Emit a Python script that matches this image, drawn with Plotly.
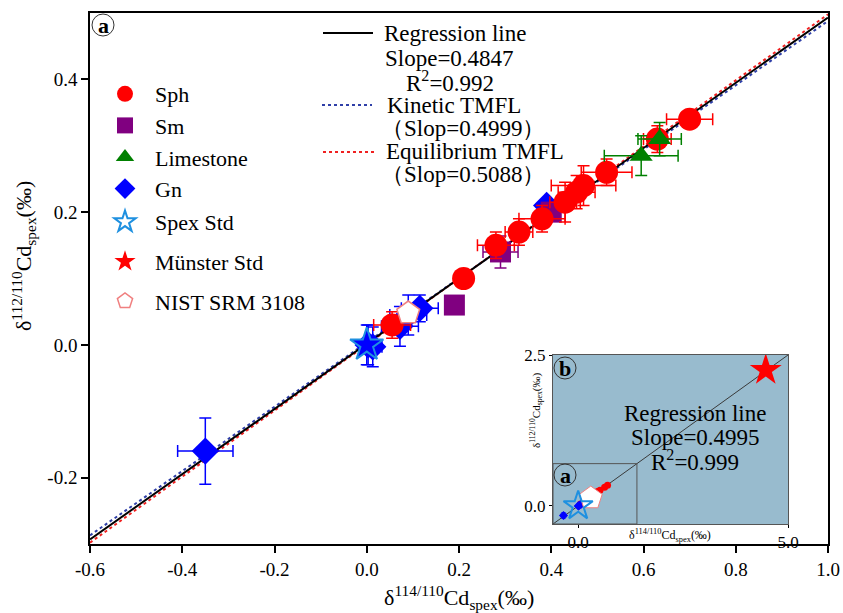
import plotly.graph_objects as go

# ---------------- data ----------------
sph_x = [0.70, 0.63, 0.52, 0.47, 0.455, 0.43, 0.38, 0.33, 0.28, 0.21, 0.055]
sph_y = [0.34, 0.31, 0.26, 0.24, 0.23, 0.215, 0.19, 0.17, 0.15, 0.10, 0.03]
sph_xerr = [0.05, 0.03, 0.055, 0.07, 0.04, 0.033, 0.05, 0.03, 0.04, 0.0, 0.04]
sph_yerr = [0.012, 0.02, 0.02, 0.03, 0.025, 0.03, 0.02, 0.02, 0.02, 0.0, 0.02]

sm_x = [0.40, 0.29, 0.19]
sm_y = [0.20, 0.14, 0.06]
sm_xerr = [0.0, 0.038, 0.0]
sm_yerr = [0.0, 0.024, 0.0]

lime_x = [0.635, 0.595]
lime_y = [0.31, 0.285]
lime_xerr = [0.047, 0.08]
lime_yerr = [0.025, 0.03]

gn_x = [-0.35, 0.39, 0.115, 0.09, 0.072, 0.013, 0.003]
gn_y = [-0.16, 0.21, 0.055, 0.045, 0.028, -0.003, 0.0]
gn_xerr = [0.06, 0.0, 0.04, 0.04, 0.04, 0.02, 0.02]
gn_yerr = [0.05, 0.0, 0.02, 0.03, 0.03, 0.03, 0.03]

spex_x = [0.0]
spex_y = [0.0]

nist_x = [0.09]
nist_y = [0.048]

# inset (b)
munster_x = [4.47]
munster_y = [2.25]
nist_inset_x = [0.30]
nist_inset_y = [0.13]

# regression / TMFL lines (end points)
line_x = [-0.6, 1.0]
reg_y = [-0.293, 0.493]
kin_y = [-0.287, 0.488]
equ_y = [-0.298, 0.498]
inset_line_x = [-0.6, 5.0]
inset_line_y = [-0.3, 2.5]

# axis ticks
x_ticks = [-0.6, -0.4, -0.2, 0.0, 0.2, 0.4, 0.6, 0.8, 1.0]
x_ticklabels = ["-0.6", "-0.4", "-0.2", "0.0", "0.2", "0.4", "0.6", "0.8", "1.0"]
y_ticks = [-0.2, 0.0, 0.2, 0.4]
y_ticklabels = ["-0.2", "0.0", "0.2", "0.4"]
inset_x_ticks = [0.0, 5.0]
inset_x_ticklabels = ["0.0", "5.0"]
inset_y_ticks = [0.0, 2.5]
inset_y_ticklabels = ["0.0", "2.5"]

FONT = "Liberation Serif"
RED = "#FF0000"
PURPLE = "#800080"
GREEN = "#008000"
BLUE = "#0000FF"
SKY = "#1E90E0"
PINK = "#F08080"
NAVY = "#2F3FA8"
INSET_BG = "#98BBCE"

fig = go.Figure()

# lines in main plot
fig.add_trace(go.Scatter(x=line_x, y=kin_y, mode="lines", showlegend=False,
                         line=dict(color=NAVY, width=2, dash="dot"), hoverinfo="skip"))
fig.add_trace(go.Scatter(x=line_x, y=equ_y, mode="lines", showlegend=False,
                         line=dict(color="#F02020", width=2, dash="dot"), hoverinfo="skip"))
fig.add_trace(go.Scatter(x=line_x, y=reg_y, mode="lines", showlegend=False,
                         line=dict(color="black", width=2), hoverinfo="skip"))


def err(arr, color):
    return dict(type="data", array=arr, color=color, thickness=1.5, width=6, visible=True)


fig.add_trace(go.Scatter(x=gn_x, y=gn_y, mode="markers", name="Gn", legendgroup="Gn", legendrank=4,
                         marker=dict(symbol="diamond", size=21, color=BLUE),
                         error_x=err(gn_xerr, BLUE), error_y=err(gn_yerr, BLUE)))
fig.add_trace(go.Scatter(x=sm_x, y=sm_y, mode="markers", name="Sm", legendgroup="Sm", legendrank=2,
                         marker=dict(symbol="square", size=21, color=PURPLE),
                         error_x=err(sm_xerr, PURPLE), error_y=err(sm_yerr, PURPLE)))
fig.add_trace(go.Scatter(x=sph_x, y=sph_y, mode="markers", name="Sph", legendgroup="Sph", legendrank=1,
                         marker=dict(symbol="circle", size=23, color=RED),
                         error_x=err(sph_xerr, RED), error_y=err(sph_yerr, RED)))
fig.add_trace(go.Scatter(x=lime_x, y=lime_y, mode="markers", name="Limestone", legendgroup="Limestone",
                         legendrank=3,
                         marker=dict(symbol="triangle-up", size=20, color=GREEN),
                         error_x=err(lime_xerr, GREEN), error_y=err(lime_yerr, GREEN)))
fig.add_trace(go.Scatter(x=nist_x, y=nist_y, mode="markers", name="NIST SRM 3108", legendgroup="NIST",
                         legendrank=7, legend="legend2",
                         marker=dict(symbol="pentagon", size=24, color="white",
                                     line=dict(color=PINK, width=1.5))))
fig.add_trace(go.Scatter(x=spex_x, y=spex_y, mode="markers", showlegend=False,
                         marker=dict(symbol="star", size=25, color=BLUE, line=dict(color=SKY, width=2)),
                         error_y=err([0.03], BLUE)))

# ---------------- inset ----------------
fig.add_trace(go.Scatter(x=inset_line_x, y=inset_line_y, mode="lines", xaxis="x2", yaxis="y2",
                         showlegend=False, line=dict(color="#3a3a3a", width=1), hoverinfo="skip"))
fig.add_trace(go.Scatter(x=sph_x, y=sph_y, mode="markers", xaxis="x2", yaxis="y2", showlegend=False,
                         marker=dict(symbol="circle", size=7, color=RED)))
fig.add_trace(go.Scatter(x=gn_x, y=gn_y, mode="markers", xaxis="x2", yaxis="y2", showlegend=False,
                         marker=dict(symbol="diamond", size=7, color=BLUE),
                         error_x=dict(type="data", array=gn_xerr, color=BLUE, thickness=1, width=2),
                         error_y=dict(type="data", array=gn_yerr, color=BLUE, thickness=1, width=2)))
fig.add_trace(go.Scatter(x=nist_inset_x, y=nist_inset_y, mode="markers", xaxis="x2", yaxis="y2",
                         showlegend=False,
                         marker=dict(symbol="pentagon", size=24, color="white",
                                     line=dict(color=PINK, width=1))))
fig.add_trace(go.Scatter(x=spex_x, y=spex_y, mode="markers", xaxis="x2", yaxis="y2",
                         name="Spex Std", legendgroup="Spex", legendrank=5, legend="legend2",
                         marker=dict(symbol="star-open", size=22, color=SKY, line=dict(width=2))))
fig.add_trace(go.Scatter(x=munster_x, y=munster_y, mode="markers", xaxis="x2", yaxis="y2",
                         name="M\u00fcnster Std", legendgroup="Munster", legendrank=6, legend="legend2",
                         marker=dict(symbol="star", size=24, color=RED)))

W, H = 843, 613
L, R, T, B = 90, 15, 13, 69
PW, PH = W - L - R, H - T - B


def px(xp):
    return (xp - L) / PW


def py(yp):
    return (H - B - yp) / PH


axis_common = dict(showgrid=False, zeroline=False, showline=True, mirror=True,
                   ticks="outside", color="black", automargin=False)

legend_common = dict(xanchor="left", yanchor="top", bgcolor="rgba(0,0,0,0)",
                     font=dict(size=22, family=FONT), itemwidth=50)

fig.update_layout(
    width=W, height=H,
    margin=dict(l=L, r=R, t=T, b=B, autoexpand=False),
    paper_bgcolor="white", plot_bgcolor="white",
    font=dict(family=FONT, color="black"),
    xaxis=dict(domain=[0, 1], range=[-0.6, 1.0], tickvals=x_ticks, ticktext=x_ticklabels,
               linecolor="black", linewidth=1.5, ticklen=7, tickwidth=1.5,
               tickfont=dict(size=19, family=FONT), **axis_common),
    yaxis=dict(domain=[0, 1], range=[-0.3, 0.5], tickvals=y_ticks, ticktext=y_ticklabels,
               linecolor="black", linewidth=1.5, ticklen=7, tickwidth=1.5,
               tickfont=dict(size=19, family=FONT), **axis_common),
    xaxis2=dict(domain=[px(553), px(788)], anchor="y2", range=[-0.6, 5.0],
                tickvals=inset_x_ticks, ticktext=inset_x_ticklabels,
                linecolor="#555555", linewidth=1, ticklen=3, tickwidth=1,
                tickfont=dict(size=17, family=FONT), **axis_common),
    yaxis2=dict(domain=[py(524), py(355)], anchor="x2", range=[-0.3, 2.5],
                tickvals=inset_y_ticks, ticktext=inset_y_ticklabels,
                linecolor="#555555", linewidth=1, ticklen=3, tickwidth=1,
                tickfont=dict(size=17, family=FONT), **axis_common),
    legend=dict(x=px(95), y=py(73), traceorder="normal", **legend_common),
    legend2=dict(x=px(95), y=py(201), traceorder="grouped", tracegroupgap=8, **legend_common),
    showlegend=True,
)

shapes = []
# inset background and the "a" box
shapes.append(dict(type="rect", xref="x2", yref="y2", x0=-0.6, x1=5.0, y0=-0.3, y1=2.5,
                   fillcolor=INSET_BG, line=dict(width=0), layer="below"))
shapes.append(dict(type="rect", xref="x2", yref="y2", x0=-0.6, x1=1.4, y0=-0.3, y1=0.7,
                   line=dict(color="#555555", width=1)))
# line samples of the regression legend
shapes.append(dict(type="line", xref="paper", yref="paper", x0=px(323), x1=px(373), y0=py(33), y1=py(33),
                   line=dict(color="black", width=2)))
shapes.append(dict(type="line", xref="paper", yref="paper", x0=px(322), x1=px(372), y0=py(105), y1=py(105),
                   line=dict(color=NAVY, width=2, dash="dot")))
shapes.append(dict(type="line", xref="paper", yref="paper", x0=px(323), x1=px(375), y0=py(152), y1=py(152),
                   line=dict(color="#F02020", width=2, dash="dot")))
# circled panel letters
for cx, cy, fill in [(103, 25, "white"), (565, 368, "rgba(0,0,0,0)"), (565, 475, "rgba(0,0,0,0)")]:
    shapes.append(dict(type="circle", xref="paper", yref="paper", xsizemode="pixel", ysizemode="pixel",
                       xanchor=px(cx), yanchor=py(cy), x0=-11, x1=11, y0=-11, y1=11,
                       fillcolor=fill, line=dict(color="#333333", width=1)))
fig.update_layout(shapes=shapes)

ann = []


def text(x, y, s, size=22, **kw):
    d = dict(xref="paper", yref="paper", x=px(x), y=py(y), text=s, showarrow=False,
             font=dict(size=size, family=FONT, color="black"), xanchor="center", yanchor="middle")
    d.update(kw)
    ann.append(d)


text(455, 34, "Regression line", size=23)
text(449, 58, "Slope=0.4847", size=23)
text(450, 81, "R<sup>2</sup>=0.992", size=23)
text(454, 105, "Kinetic TMFL", size=23)
text(463, 128, "\uff08Slop=0.4999\uff09", size=23)
text(475, 152, "Equilibrium TMFL", size=23)
text(463, 175, "\uff08Slop=0.5088\uff09", size=23)

text(695, 413, "Regression line", size=23)
text(695, 437, "Slope=0.4995", size=23)
text(695, 460, "R<sup>2</sup>=0.999", size=23)

text(103, 25, "<b>a</b>", size=22)
text(565, 368, "<b>b</b>", size=22)
text(565, 475, "<b>a</b>", size=22)

# axis titles
text(459, 597, "\u03b4<sup>114/110</sup>Cd<sub>spex</sub>(\u2030)", size=22)
text(23, 256, "\u03b4<sup>112/110</sup>Cd<sub>spex</sub>(\u2030)", size=22, textangle=-90)
text(670, 535, "\u03b4<sup>114/110</sup>Cd<sub>spex</sub>(\u2030)", size=12)
text(536, 411, "\u03b4<sup>112/110</sup>Cd<sub>spex</sub>(\u2030)", size=11, textangle=-90)

fig.update_layout(annotations=ann)

fig.write_html("out.html", config={"displayModeBar": False},
               post_script="document.body.style.margin='0px';document.body.style.overflow='hidden';")
